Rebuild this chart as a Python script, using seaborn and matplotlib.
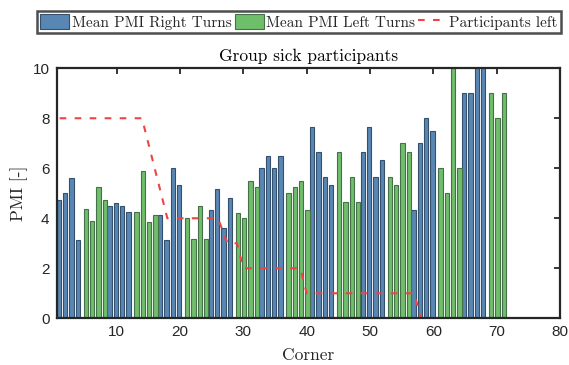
import matplotlib
matplotlib.use("Agg")
import matplotlib.pyplot as plt
from matplotlib.patches import Patch
from matplotlib.lines import Line2D
import numpy as np
import pandas as pd
import seaborn as sns

# Mean PMI per corner, right-turn corners
corners_right = [1, 2, 3, 4, 9, 10, 11, 12, 17, 18, 19, 20, 25, 26, 27, 28,
                 33, 34, 35, 36, 41, 42, 43, 44, 49, 50, 51, 52, 57, 58, 59, 60,
                 65, 66, 67, 68]
pmi_right = [4.75, 5.0, 5.63, 3.13, 4.5, 4.62, 4.5, 4.25, 4.13, 3.13, 6.0, 5.33,
             4.33, 5.17, 3.6, 4.8, 6.0, 6.5, 6.0, 6.5, 7.67, 6.67, 5.67, 5.33,
             6.67, 7.67, 5.67, 6.33, 4.33, 7.0, 8.0, 7.5, 9.0, 9.0, 10.5, 10.5]

# Mean PMI per corner, left-turn corners
corners_left = [5, 6, 7, 8, 13, 14, 15, 16, 21, 22, 23, 24, 29, 30, 31, 32,
                37, 38, 39, 40, 45, 46, 47, 48, 53, 54, 55, 56, 61, 62, 63, 64,
                69, 70, 71]
pmi_left = [4.38, 3.88, 5.25, 4.75, 4.25, 5.88, 3.85, 4.13, 4.0, 3.17, 4.5, 3.17,
            4.2, 4.0, 5.5, 5.25, 5.0, 5.25, 5.5, 4.33, 6.67, 4.67, 5.67, 4.67,
            5.67, 5.33, 7.0, 6.67, 6.0, 5.0, 10.5, 6.0, 9.0, 8.0, 9.0]

# Number of participants still in the run
part_corner = [1, 14, 18, 26, 27.5, 29, 30, 39, 40, 57, 58]
part_count = [8, 8, 4, 4, 3, 3, 2, 2, 1, 1, 0]

x_ticks = [10, 20, 30, 40, 50, 60, 70, 80]
y_ticks = [0, 2, 4, 6, 8, 10]

BLUE, BLUE_EDGE = "#5887b3", "#34506c"
GREEN, GREEN_EDGE = "#6fbf6a", "#46704a"
RED = "#ee4444"
DARK = "#262626"
SERIF = "cmr10"
SANS = "Liberation Sans"

sns.set_style("white")
plt.rcParams["font.family"] = [SANS, "DejaVu Sans"]

df_r = pd.DataFrame({"corner": np.array(corners_right, float) - 0.14, "pmi": pmi_right})
df_l = pd.DataFrame({"corner": np.array(corners_left, float) + 0.13, "pmi": pmi_left})

fig = plt.figure(figsize=(5.69, 3.65), dpi=100)
ax = fig.add_axes([0.0993, 0.128, 0.8849, 0.685])

sns.barplot(data=df_r, x="corner", y="pmi", native_scale=True, width=0.66,
            color=BLUE, saturation=1, edgecolor=BLUE_EDGE, linewidth=0.8,
            errorbar=None, ax=ax)
sns.barplot(data=df_l, x="corner", y="pmi", native_scale=True, width=0.66,
            color=GREEN, saturation=1, edgecolor=GREEN_EDGE, linewidth=0.8,
            errorbar=None, ax=ax)
sns.lineplot(x=part_corner, y=part_count, color=RED, linewidth=1.5,
             linestyle=(0, (3.2, 4.0)), ax=ax)

ax.set_xlim(0.5, 80)
ax.set_ylim(0, 10)
ax.set_xticks(x_ticks)
ax.set_yticks(y_ticks)
ax.set_xticklabels([str(t) for t in x_ticks])
ax.set_yticklabels([str(t) for t in y_ticks])
ax.tick_params(direction="in", length=4, width=1.3, colors=DARK,
               labelsize=11, top=True, right=True, pad=5)
for s in ax.spines.values():
    s.set_visible(True)
    s.set_linewidth(1.6)
    s.set_color(DARK)

ax.set_title("Group sick participants", family=SERIF, fontsize=12.5,
             color="black", pad=5)
ax.set_xlabel("Corner", family=SERIF, fontsize=12.5, color=DARK, labelpad=6)
ax.set_ylabel("PMI [-]", family=SERIF, fontsize=12.5, color=DARK, labelpad=3)

handles = [
    Patch(facecolor=BLUE, edgecolor=BLUE_EDGE, linewidth=0.8),
    Patch(facecolor=GREEN, edgecolor=GREEN_EDGE, linewidth=0.8),
    Line2D([], [], color=RED, linewidth=1.5, linestyle=(0, (3.2, 4.0))),
]
labels = ["Mean PMI Right Turns", "Mean PMI Left Turns", "Participants left"]
leg = fig.legend(handles, labels, loc="center", bbox_to_anchor=(0.5255, 0.94),
                 ncol=3, frameon=True, fancybox=False, edgecolor="#222222",
                 prop={"family": SERIF, "size": 11}, handlelength=1.9,
                 handleheight=1.1, handletextpad=0.15, columnspacing=0.2,
                 borderpad=0.2, borderaxespad=0)
leg.get_frame().set_linewidth(1.8)

fig.savefig("out.png", dpi=100, facecolor="white")
